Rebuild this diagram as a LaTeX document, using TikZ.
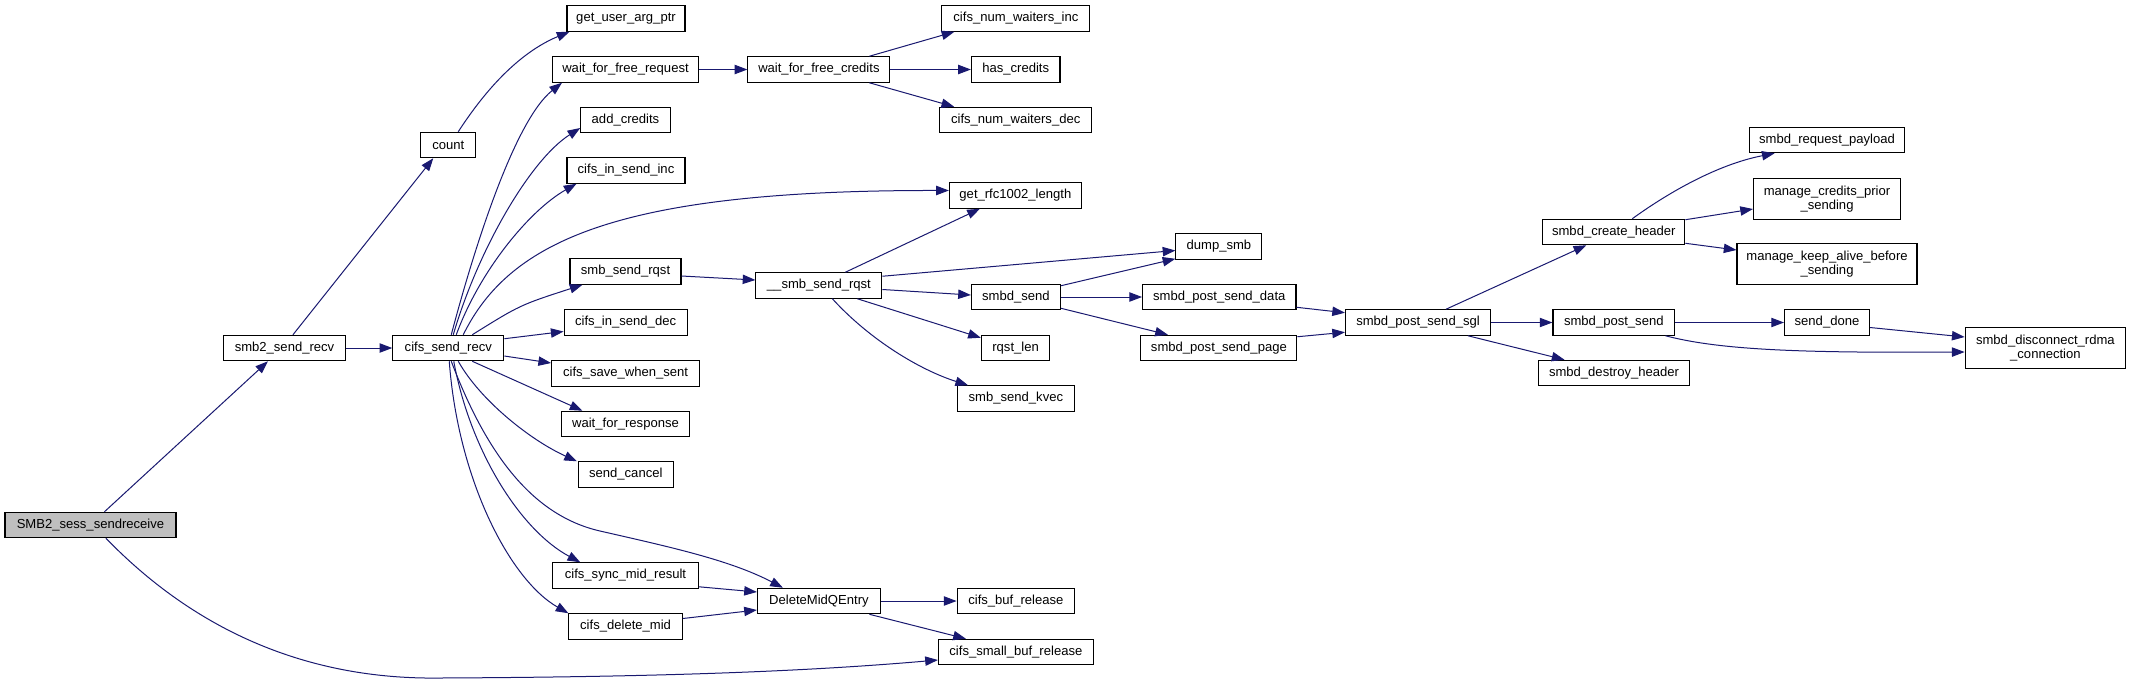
\documentclass[tikz,border=0pt]{standalone}
\usepackage{fontspec}
\setmainfont{Liberation Sans}
\usetikzlibrary{arrows.meta,calc}
\definecolor{edgeblue}{HTML}{191970}
\definecolor{rootgray}{HTML}{BFBFBF}
\begin{document}
\begin{tikzpicture}[x=0.75pt,y=-0.75pt,
  fn/.style={draw=black, line width=0.8pt, fill=white, inner sep=0pt, minimum height=19.1pt,
             font=\fontsize{9.8}{10.3}\selectfont, align=center},
  bw/.style={minimum width=#1*0.75pt},
  twoline/.style={minimum height=30.2pt},
  e/.style={draw=edgeblue, line width=0.75pt, -{Triangle[length=9.5pt,width=7pt]}}]
\fill[white] (0,0) rectangle (2131,683);
\useasboundingbox (0,0) rectangle (2131,683);

% nodes
\node[fn,bw=171,fill=rootgray] (SMB) at (90.5,525) {SMB2\_sess\_sendreceive};
\node[fn,bw=122] (s2r) at (284.5,348) {smb2\_send\_recv};
\node[fn,bw=55] (cnt) at (448.3,145) {count};
\node[fn,bw=111] (csr) at (448.3,348) {cifs\_send\_recv};
\node[fn,bw=118] (guap) at (626,18.5) {get\_user\_arg\_ptr};
\node[fn,bw=146] (wffr) at (625.5,69.5) {wait\_for\_free\_request};
\node[fn,bw=89.5] (addc) at (625.5,120) {add\_credits};
\node[fn,bw=118] (cisi) at (626,170.5) {cifs\_in\_send\_inc};
\node[fn,bw=111] (ssr) at (625.5,271.5) {smb\_send\_rqst};
\node[fn,bw=123] (cisd) at (625.6,322.5) {cifs\_in\_send\_dec};
\node[fn,bw=148] (csws) at (625.6,373.5) {cifs\_save\_when\_sent};
\node[fn,bw=128] (wfr) at (625.5,424) {wait\_for\_response};
\node[fn,bw=94.6] (scan) at (625.8,474.5) {send\_cancel};
\node[fn,bw=145.5] (csmr) at (625.5,575.5) {cifs\_sync\_mid\_result};
\node[fn,bw=113.4] (cdm) at (625.6,626.5) {cifs\_delete\_mid};
\node[fn,bw=142] (wffc) at (818.9,69.5) {wait\_for\_free\_credits};
\node[fn,bw=126] (ussr) at (818.9,285.5) {\_\_smb\_send\_rqst};
\node[fn,bw=123] (dmqe) at (818.9,601) {DeleteMidQEntry};
\node[fn,bw=148] (cnwi) at (1015.9,18.5) {cifs\_num\_waiters\_inc};
\node[fn,bw=88.6] (hasc) at (1015.7,69.5) {has\_credits};
\node[fn,bw=152] (cnwd) at (1015.7,120) {cifs\_num\_waiters\_dec};
\node[fn,bw=132] (grl) at (1015.4,195.5) {get\_rfc1002\_length};
\node[fn,bw=89] (sbs) at (1015.9,297) {smbd\_send};
\node[fn,bw=68.5] (rql) at (1015.6,348) {rqst\_len};
\node[fn,bw=117.6] (ssk) at (1015.9,398.5) {smb\_send\_kvec};
\node[fn,bw=117.6] (cbr) at (1015.9,601) {cifs\_buf\_release};
\node[fn,bw=155] (csbr) at (1015.9,652) {cifs\_small\_buf\_release};
\node[fn,bw=86] (dsmb) at (1218.9,246.5) {dump\_smb};
\node[fn,bw=153.4] (spsd) at (1219.3,297) {smbd\_post\_send\_data};
\node[fn,bw=156] (spsp) at (1218.9,348) {smbd\_post\_send\_page};
\node[fn,bw=145] (spsg) at (1418,322.5) {smbd\_post\_send\_sgl};
\node[fn,bw=142] (sch) at (1613.8,232) {smbd\_create\_header};
\node[fn,bw=121.7] (sps) at (1613.8,322.5) {smbd\_post\_send};
\node[fn,bw=151] (sdh) at (1614,373) {smbd\_destroy\_header};
\node[fn,bw=155.7] (srp) at (1827,140) {smbd\_request\_payload};
\node[fn,bw=147,twoline] (mcp) at (1827,199) {manage\_credits\_prior\\\_sending};
\node[fn,bw=180,twoline] (mka) at (1827,264) {manage\_keep\_alive\_before\\\_sending};
\node[fn,bw=85] (sdone) at (1827,322.5) {send\_done};
\node[fn,bw=160.5,twoline] (sdr) at (2045.4,348) {smbd\_disconnect\_rdma\\\_connection};

% edges
\draw[e] ($(SMB.north west)+(100,0)$) -- ($(s2r.south west)+(45,0)$);
\draw[e] ($(SMB.south west)+(101.5,0)$) .. controls (190,625) and (300,680) .. (440,678)
         .. controls (650,677) and (800,672) .. ($(csbr.west)+(0,8)$);
\draw[e] ($(s2r.north west)+(70,0)$) -- ($(cnt.south west)+(13,0)$);
\draw[e] (s2r.east) -- (csr.west);
\draw[e] ($(cnt.north west)+(38,0)$) .. controls (495,75) and (530,48) .. ($(guap.south west)+(3,0)$);
\draw[e] (wffr.east) -- (wffc.west);
\draw[e] ($(wffc.north west)+(122,0)$) -- ($(cnwi.south west)+(13,0)$);
\draw[e] (wffc.east) -- (hasc.west);
\draw[e] ($(wffc.south west)+(122,0)$) -- ($(cnwd.north west)+(15,0)$);
% from cifs_send_recv
\draw[e] ($(csr.north west)+(59,0)$) .. controls (475,245) and (515,120) .. ($(wffr.south west)+(10,0)$);
\draw[e] ($(csr.north west)+(61,0)$) .. controls (478,250) and (530,160) .. ($(addc.west)+(0,8)$);
\draw[e] ($(csr.north west)+(64,0)$) .. controls (480,270) and (530,210) .. ($(cisi.south west)+(10,0)$);
\draw[e] ($(csr.north west)+(71,0)$) .. controls (510,240) and (620,190) .. ($(grl.west)+(0,-5)$);
\draw[e] ($(csr.north west)+(80,0)$) .. controls (520,305) .. ($(ssr.south west)+(13,0)$);
\draw[e] ($(csr.north east)+(0,4)$) -- ($(cisd.west)+(0,9)$);
\draw[e] ($(csr.east)+(0,8)$) -- ($(csws.west)+(0,-10.5)$);
\draw[e] ($(csr.south west)+(80,0)$) -- ($(wfr.north west)+(21.5,0)$);
\draw[e] ($(csr.south west)+(66,0)$) .. controls (480,400) and (530,440) .. ($(scan.north west)+(-1,0)$);
\draw[e] ($(csr.south west)+(59,0)$) .. controls (485,450) and (530,515) .. (600,531)
         .. controls (670,547) and (730,560) .. ($(dmqe.north west)+(26,0)$);
\draw[e] ($(csr.south west)+(61.5,0)$) .. controls (470,450) and (520,530) .. ($(csmr.north west)+(28,0)$);
\draw[e] ($(csr.south west)+(57,0)$) .. controls (458,480) and (510,580) .. (cdm.north west);
% smb_send_rqst chain
\draw[e] ($(ssr.east)+(0,4.5)$) -- ($(ussr.west)+(0,-5.5)$);
\draw[e] ($(ussr.north west)+(90,0)$) -- ($(grl.south west)+(31,0)$);
\draw[e] ($(ussr.north east)+(0,4)$) -- ($(dsmb.west)+(0,4)$);
\draw[e] ($(ussr.east)+(0,4)$) -- ($(sbs.west)+(0,-2)$);
\draw[e] ($(ussr.south west)+(102,0)$) -- ($(rql.north west)+(0,3)$);
\draw[e] ($(ussr.south west)+(77,0)$) .. controls (870,340) and (920,370) .. ($(ssk.north west)+(11.5,0)$);
\draw[e] ($(sbs.north east)+(0,2)$) -- ($(dsmb.south west)+(0,-1)$);
\draw[e] (sbs.east) -- (spsd.west);
\draw[e] ($(sbs.south east)+(0,-2)$) -- ($(spsp.north west)+(27.5,0)$);
\draw[e] ($(spsd.south east)+(0,-3)$) -- ($(spsg.north west)+(0,3.5)$);
\draw[e] ($(spsp.north east)+(0,2)$) -- ($(spsg.south west)+(0,-3.5)$);
\draw[e] ($(spsg.north west)+(101,0)$) -- ($(sch.south west)+(44,0)$);
\draw[e] (spsg.east) -- (sps.west);
\draw[e] ($(spsg.south west)+(123,0)$) -- ($(sdh.north west)+(26.5,0)$);
\draw[e] ($(sch.north west)+(90,0)$) .. controls (1665,195) and (1715,165) .. ($(srp.south west)+(26,0)$);
\draw[e] ($(sch.north east)+(0,1)$) -- ($(mcp.west)+(0,10)$);
\draw[e] ($(sch.south east)+(0,-2)$) -- ($(mka.west)+(0,-14)$);
\draw[e] (sps.east) -- (sdone.west);
\draw[e] ($(sps.south west)+(113,0)$) .. controls (1720,350) and (1800,353) .. ($(sdr.west)+(0,4)$);
\draw[e] ($(sdone.east)+(0,5)$) -- ($(sdr.west)+(0,-11)$);
% DeleteMidQEntry
\draw[e] (dmqe.east) -- (cbr.west);
\draw[e] ($(dmqe.south west)+(112.5,0)$) -- ($(csbr.north west)+(28,0)$);
\draw[e] ($(csmr.south east)+(0,-2)$) -- ($(dmqe.west)+(0,-9)$);
\draw[e] ($(cdm.east)+(0,-8)$) -- ($(dmqe.west)+(0,9)$);
\end{tikzpicture}
\end{document}
